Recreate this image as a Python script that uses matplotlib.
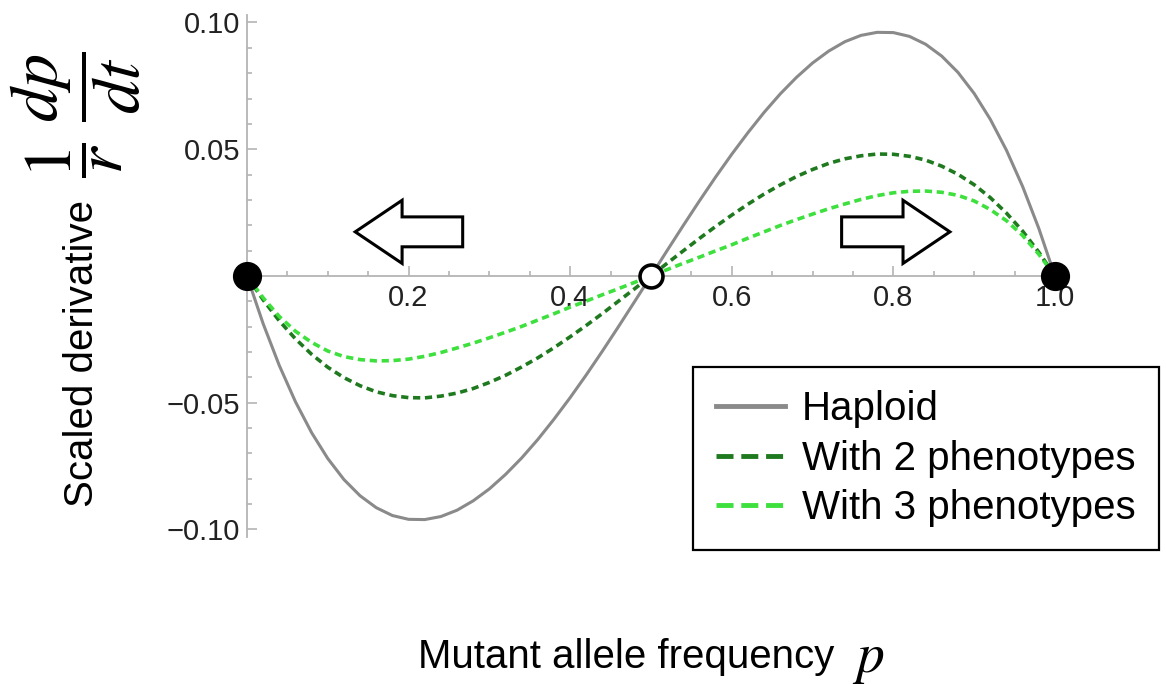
import numpy as np
import matplotlib
matplotlib.use('Agg')
import matplotlib.pyplot as plt
from matplotlib.lines import Line2D
from matplotlib.patches import FancyArrow

plt.rcParams['font.family'] = ['Liberation Sans', 'DejaVu Sans']
plt.rcParams['mathtext.fontset'] = 'stix'

# Mutant allele frequency samples
p = np.round(np.arange(0, 1.0001, 0.02), 3)

# Scaled derivative
haploid = [0, -0.0188, -0.0353, -0.0496, -0.0618, -0.0720, -0.0803, -0.0867,
           -0.0914, -0.0945, -0.0960, -0.0961, -0.0949, -0.0924, -0.0887,
           -0.0840, -0.0783, -0.0718, -0.0645, -0.0565, -0.0480, -0.0390,
           -0.0296, -0.0199, -0.0100, 0,
           0.0100, 0.0199, 0.0296, 0.0390, 0.0480, 0.0565, 0.0645, 0.0718,
           0.0783, 0.0840, 0.0887, 0.0924, 0.0949, 0.0961, 0.0960, 0.0945,
           0.0914, 0.0867, 0.0803, 0.0720, 0.0618, 0.0496, 0.0353, 0.0188, 0]
two_pheno = [0, -0.0094, -0.0177, -0.0248, -0.0309, -0.0360, -0.0401, -0.0433,
             -0.0457, -0.0472, -0.0480, -0.0481, -0.0474, -0.0462, -0.0444,
             -0.0420, -0.0392, -0.0359, -0.0323, -0.0283, -0.0240, -0.0195,
             -0.0148, -0.0099, -0.0050, 0,
             0.0050, 0.0099, 0.0148, 0.0195, 0.0240, 0.0283, 0.0323, 0.0359,
             0.0392, 0.0420, 0.0444, 0.0462, 0.0474, 0.0481, 0.0480, 0.0472,
             0.0457, 0.0433, 0.0401, 0.0360, 0.0309, 0.0248, 0.0177, 0.0094, 0]
three_pheno = [0, -0.0086, -0.0160, -0.0218, -0.0262, -0.0296, -0.0318,
               -0.0330, -0.0335, -0.0334, -0.0328, -0.0317, -0.0302, -0.0284,
               -0.0265, -0.0244, -0.0222, -0.0199, -0.0174, -0.0149, -0.0123,
               -0.0099, -0.0074, -0.0050, -0.0025, 0,
               0.0025, 0.0050, 0.0074, 0.0099, 0.0123, 0.0149, 0.0174, 0.0199,
               0.0222, 0.0244, 0.0265, 0.0284, 0.0302, 0.0317, 0.0328, 0.0334,
               0.0335, 0.0330, 0.0318, 0.0296, 0.0262, 0.0218, 0.0160, 0.0086, 0]

stable_pts = [0.0, 1.0]
unstable_pts = [0.5]

xticks = [0.2, 0.4, 0.6, 0.8, 1.0]
xtick_labels = ['0.2', '0.4', '0.6', '0.8', '1.0']
yticks = [-0.10, -0.05, 0.05, 0.10]
ytick_labels = ['\u22120.10', '\u22120.05', '0.05', '0.10']

labels = ['Haploid', 'With 2 phenotypes', 'With 3 phenotypes']
colours = ['#8a8a8a', '#1f7a1f', '#3de03d']

# direction arrows: (tail x, length, y centre)
arrows = [(0.267, -0.133, 0.0174), (0.736, 0.134, 0.0174)]

fig = plt.figure(figsize=(11.66, 6.84), dpi=100)
ax = fig.add_axes([0.2118, 0.2148, 0.6964, 0.7635])

ax.plot(p, haploid, color=colours[0], lw=2.2, zorder=3, clip_on=False)
ax.plot(p, two_pheno, color=colours[1], lw=2.6, dashes=(2.0, 1.3), zorder=4,
        clip_on=False)
ax.plot(p, three_pheno, color=colours[2], lw=2.6, dashes=(2.0, 1.3), zorder=4,
        clip_on=False)

for x0, dx, y0 in arrows:
    ax.add_patch(FancyArrow(x0, y0, dx, 0, width=0.0118, head_width=0.0249,
                            head_length=0.058, length_includes_head=True,
                            facecolor='white', edgecolor='black', lw=2.2,
                            joinstyle='miter', zorder=5))

ax.plot(stable_pts, [0] * len(stable_pts), 'o', color='black', ms=20,
        zorder=6, clip_on=False)
ax.plot(unstable_pts, [0] * len(unstable_pts), 'o', mfc='white', mec='black',
        ms=16.5, mew=2.6, zorder=6, clip_on=False)

ax.set_xlim(0, 1.005)
ax.set_ylim(-0.103, 0.103)

for s in ['top', 'right']:
    ax.spines[s].set_visible(False)
for s in ['left', 'bottom']:
    ax.spines[s].set_position(('data', 0))
    ax.spines[s].set_color('#b4b4b4')
    ax.spines[s].set_linewidth(1.3)

ax.set_xticks(xticks, xtick_labels)
ax.set_yticks(yticks, ytick_labels)
ax.set_xticks(np.arange(0.05, 1.0, 0.05), minor=True)
ax.set_yticks(np.arange(-0.10, 0.1001, 0.01), minor=True)
ax.tick_params(which='both', direction='in', color='#b4b4b4', width=1.2,
               labelsize=21, labelcolor='#222222')
ax.tick_params(which='major', length=7)
ax.tick_params(which='minor', length=3.8)
ax.tick_params(axis='x', pad=6)
ax.tick_params(axis='y', pad=5)

handles = [
    Line2D([], [], color=colours[0], lw=3.5),
    Line2D([], [], color=colours[1], lw=3.5, dashes=(3.5, 1.6)),
    Line2D([], [], color=colours[2], lw=3.5, dashes=(3.5, 1.6)),
]
leg = fig.legend(handles, labels, loc='upper left',
                 bbox_to_anchor=(693 / 1166, 1 - 367 / 684),
                 fontsize=29, frameon=True, fancybox=False, framealpha=1,
                 edgecolor='black', borderpad=0.58, labelspacing=0.28,
                 handlelength=1.7, handletextpad=0.42, borderaxespad=0)
leg.get_frame().set_linewidth(1.6)

# axis labels
fig.text(93 / 1166, 1 - 507 / 684, 'Scaled derivative', rotation=90,
         rotation_mode='anchor', ha='left', va='baseline', fontsize=29)
fig.text(76 / 1166, 1 - 115 / 684, r'$\dfrac{1}{r}\;\dfrac{dp}{dt}$',
         rotation=90, ha='center', va='center', fontsize=49)
fig.text(418 / 1166, 1 - 668 / 684, 'Mutant allele frequency', ha='left',
         va='baseline', fontsize=29)
fig.text(852 / 1166, 1 - 672 / 684, r'$p$', ha='left', va='baseline',
         fontsize=40)

fig.savefig('out.png', dpi=100)
